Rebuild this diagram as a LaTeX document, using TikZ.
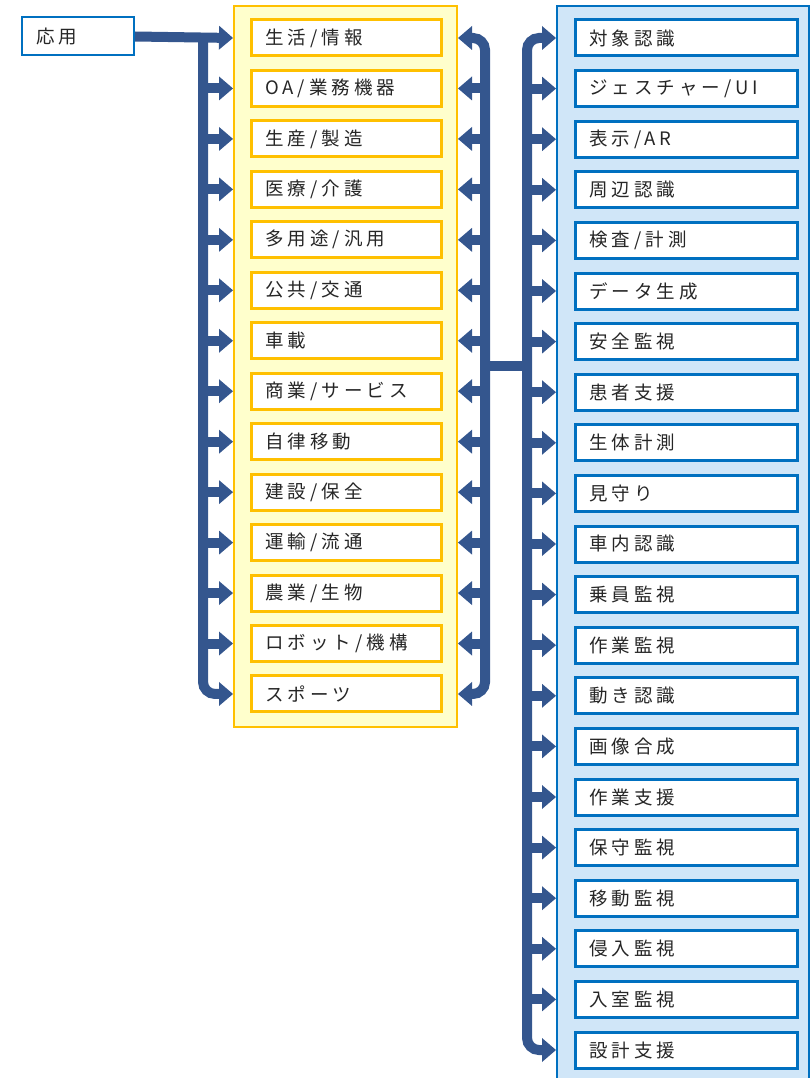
\documentclass[tikz,border=0pt]{standalone}
\usepackage{fontspec}
\newfontfamily\jpf{Noto Sans CJK JP}[LetterSpace=22]
\usetikzlibrary{arrows.meta}
\definecolor{bluebd}{RGB}{0,112,192}
\definecolor{ybd}{RGB}{255,192,0}
\definecolor{yfill}{RGB}{255,255,204}
\definecolor{bfill}{RGB}{208,230,248}
\definecolor{arrc}{RGB}{52,86,142}
\begin{document}
\begin{tikzpicture}[x=1pt,y=-1pt,
  txt/.style={font=\jpf\fontsize{18.5pt}{22pt}\selectfont, text=black!85},
  ybox/.style={txt, draw=ybd, line width=3pt, fill=white, minimum width=190pt, minimum height=36pt,
    anchor=north west, text width=162pt, align=left, inner xsep=0pt, inner ysep=0pt},
  bbox/.style={txt, draw=bluebd, line width=3pt, fill=white, minimum width=222pt, minimum height=36pt,
    anchor=north west, text width=194pt, align=left, inner xsep=0pt, inner ysep=0pt},
  appbox/.style={txt, draw=bluebd, line width=2pt, fill=white, minimum width=112pt, minimum height=38pt,
    anchor=west, text width=84pt, align=left, inner xsep=0pt, inner ysep=0pt},
  conn/.style={draw=arrc, line width=10pt},
  tip/.tip={Triangle[length=14pt,width=24pt,line width=0pt]},
  arr/.style={conn, -tip},
  both/.style={conn, tip-tip, rounded corners=12pt},
]
\useasboundingbox (0,0) rectangle (811,1078);
% containers
\node (lcont) [draw=ybd, line width=2pt, fill=yfill, minimum width=223pt, minimum height=721pt,
  anchor=north west, inner sep=0pt] at (233,5) {};
\node (rcont) [draw=bluebd, line width=2pt, fill=bfill, minimum width=252pt, minimum height=1110pt,
  anchor=north west, inner sep=0pt] at (556,5) {};
% left items
\foreach \t [count=\i] in {{生活/情報},{OA/業務機器},{生産/製造},{医療/介護},{多用途/汎用},{公共/交通},{車載},{商業/サービス},{自律移動},{建設/保全},{運輸/流通},{農業/生物},{ロボット/機構},{スポーツ}}
  \node[ybox] (l\i) at (249.5,{18.5+(\i-1)*50.46}) {\raisebox{-3pt}{\t}};
% right items
\foreach \t [count=\i] in {{対象認識},{ジェスチャー/UI},{表示/AR},{周辺認識},{検査/計測},{データ生成},{安全監視},{患者支援},{生体計測},{見守り},{車内認識},{乗員監視},{作業監視},{動き認識},{画像合成},{作業支援},{保守監視},{移動監視},{侵入監視},{入室監視},{設計支援}}
  \node[bbox] (r\i) at (573.5,{18.5+(\i-1)*50.6}) {\raisebox{-3pt}{\t}};
% application node
\node[appbox] (app) at (21,36.5) {\raisebox{-3pt}{応用}};
% trunk coordinates
\coordinate (LT) at (203,366);
\coordinate (MT) at (485,366);
\coordinate (RT) at (527,366);
% left trunk
\draw[arr] (app.east) -- (lcont.west |- l1);
\draw[conn, -tip, rounded corners=12pt] (LT |- l1) -- (LT |- l14) -- (lcont.west |- l14);
\foreach \i in {2,...,13} \draw[arr] (LT |- l\i) -- (lcont.west |- l\i);
% middle trunk
\draw[both] (lcont.east |- l1) -- (MT |- l1) -- (MT |- l14) -- (lcont.east |- l14);
\foreach \i in {2,...,13} \draw[arr] (MT |- l\i) -- (lcont.east |- l\i);
% bridge
\draw[conn] (MT) -- (RT);
% right trunk
\draw[both] (rcont.west |- r1) -- (RT |- r1) -- (RT |- r21) -- (rcont.west |- r21);
\foreach \i in {2,...,20} \draw[arr] (RT |- r\i) -- (rcont.west |- r\i);
\end{tikzpicture}
\end{document}
